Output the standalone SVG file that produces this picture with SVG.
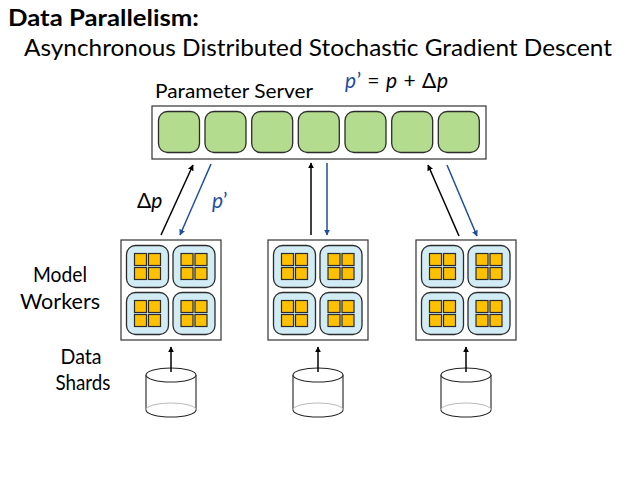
<svg xmlns="http://www.w3.org/2000/svg" width="638" height="479" viewBox="0 0 638 479">
<defs>
<style>
text{font-family:Lato,"Open Sans","Liberation Sans",sans-serif;fill:#000}
.cell{fill:#b3dc8e;stroke:#2b2b2b;stroke-width:1.3}
.box{fill:#fff;stroke:#333;stroke-width:1.2}
.core{fill:#d2ecf6;stroke:#2b2b2b;stroke-width:1.3}
.sq{fill:#ffc000;stroke:#2b2b2b;stroke-width:1.2}
.k{stroke:#000;stroke-width:1.5;fill:none}
.b{stroke:#1f4e9e;stroke-width:1.5;fill:none}
.cyl{fill:#fff;stroke:#222;stroke-width:1.1}
.back{fill:none;stroke:#bbb;stroke-width:1.1}
.it{font-style:italic}
.blue{fill:#1f4e9e}
</style>
<marker id="ak" viewBox="0 0 10 10" refX="9" refY="5" markerWidth="6" markerHeight="6" orient="auto" markerUnits="userSpaceOnUse"><path d="M0,0L10,5L0,10z" fill="#000"/></marker>
<marker id="ab" viewBox="0 0 10 10" refX="9" refY="5" markerWidth="6" markerHeight="6" orient="auto" markerUnits="userSpaceOnUse"><path d="M0,0L10,5L0,10z" fill="#1f4e9e"/></marker>
<g id="worker">
<rect class="box" x="0" y="0" width="100" height="100"/>
<g id="core">
<rect class="core" x="5.5" y="5.5" width="42" height="42" rx="9"/>
<rect class="sq" x="13.5" y="13.5" width="12" height="12"/>
<rect class="sq" x="27.5" y="13.5" width="12" height="12"/>
<rect class="sq" x="13.5" y="27.5" width="12" height="12"/>
<rect class="sq" x="27.5" y="27.5" width="12" height="12"/>
</g>
<use href="#core" x="46.5" y="0"/>
<use href="#core" x="0" y="47"/>
<use href="#core" x="46.5" y="47"/>
</g>
<g id="cylinder">
<path class="cyl" d="M-25,0 L-25,35 A25,7 0 0 0 25,35 L25,0"/>
<path class="back" d="M-25,35 A25,7 0 0 1 25,35"/>
<ellipse class="cyl" cx="0" cy="0" rx="25" ry="7"/>
</g>
</defs>

<g id="titles">
<text x="8" y="26" font-size="23" font-weight="bold" textLength="191" lengthAdjust="spacingAndGlyphs">Data Parallelism:</text>
<text x="24" y="56" font-size="24" textLength="588" lengthAdjust="spacingAndGlyphs">Asynchronous Distributed Stochastic Gradient Descent</text>
</g>

<g id="parameter-server">
<text x="155" y="98" font-size="20" textLength="158" lengthAdjust="spacingAndGlyphs">Parameter Server</text>
<text x="345" y="88" font-size="21" textLength="103"><tspan class="it blue">p</tspan><tspan class="blue">’</tspan> = <tspan class="it">p</tspan> + Δ<tspan class="it">p</tspan></text>
<rect class="box" x="152" y="106" width="334" height="53"/>
<rect class="cell" x="158.5" y="111.5" width="41" height="41" rx="9"/>
<rect class="cell" x="205" y="111.5" width="41" height="41" rx="9"/>
<rect class="cell" x="251.7" y="111.5" width="41" height="41" rx="9"/>
<rect class="cell" x="298.3" y="111.5" width="41" height="41" rx="9"/>
<rect class="cell" x="345" y="111.5" width="41" height="41" rx="9"/>
<rect class="cell" x="391.7" y="111.5" width="41" height="41" rx="9"/>
<rect class="cell" x="438.3" y="111.5" width="41" height="41" rx="9"/>
</g>

<g id="worker-1"><use href="#worker" x="121" y="240"/></g>
<g id="worker-2"><use href="#worker" x="268" y="240"/></g>
<g id="worker-3"><use href="#worker" x="416" y="240"/></g>

<g id="shard-1"><use href="#cylinder" x="171" y="375"/></g>
<g id="shard-2"><use href="#cylinder" x="318" y="375"/></g>
<g id="shard-3"><use href="#cylinder" x="466" y="375"/></g>

<g id="labels">
<text x="60" y="282" font-size="21" text-anchor="middle" textLength="54" lengthAdjust="spacingAndGlyphs">Model</text>
<text x="60" y="309" font-size="21" text-anchor="middle" textLength="80" lengthAdjust="spacingAndGlyphs">Workers</text>
<text x="81" y="364" font-size="21" text-anchor="middle" textLength="41" lengthAdjust="spacingAndGlyphs">Data</text>
<text x="83" y="390" font-size="21" text-anchor="middle" textLength="55" lengthAdjust="spacingAndGlyphs">Shards</text>
<text x="137" y="208" font-size="21">Δ<tspan class="it">p</tspan></text>
<text x="212" y="208" font-size="21" class="blue"><tspan class="it">p</tspan>’</text>
</g>

<g id="connectors">
<line class="k" x1="161" y1="235" x2="193" y2="165" marker-end="url(#ak)"/>
<line class="b" x1="211" y1="164" x2="180" y2="235" marker-end="url(#ab)"/>
<line class="k" x1="311" y1="235" x2="311" y2="163" marker-end="url(#ak)"/>
<line class="b" x1="327" y1="163" x2="327" y2="235" marker-end="url(#ab)"/>
<line class="k" x1="459" y1="236" x2="428" y2="165" marker-end="url(#ak)"/>
<line class="b" x1="447" y1="165" x2="477" y2="236" marker-end="url(#ab)"/>
<line class="k" x1="171" y1="372" x2="171" y2="347" marker-end="url(#ak)"/>
<line class="k" x1="318" y1="372" x2="318" y2="347" marker-end="url(#ak)"/>
<line class="k" x1="466" y1="372" x2="466" y2="347" marker-end="url(#ak)"/>
</g>
</svg>
